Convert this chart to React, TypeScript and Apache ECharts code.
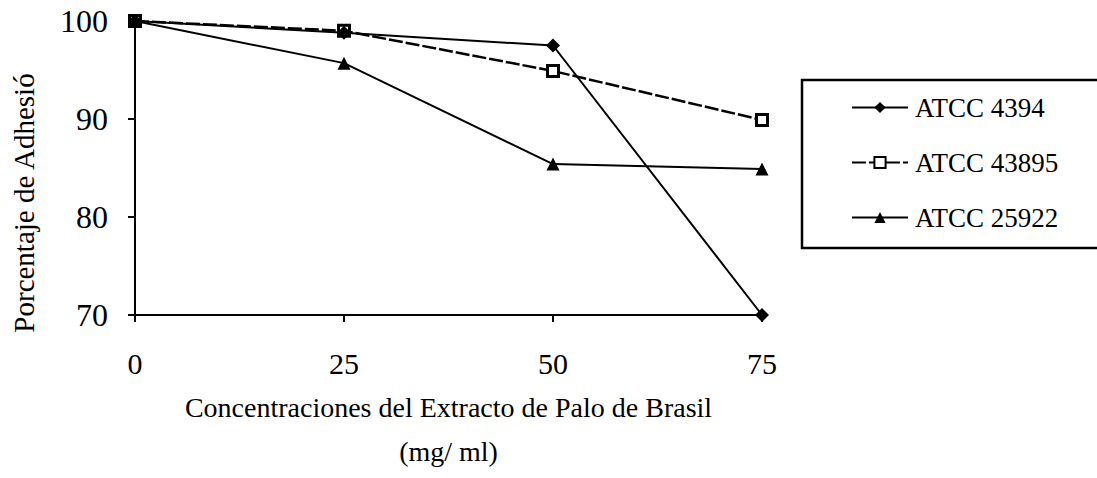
import React, { useEffect, useRef } from "react";
import * as echarts from "echarts";

const concentrations = [0, 25, 50, 75];
const atcc4394 = [100, 98.8, 97.5, 70];
const atcc43895 = [100, 99, 94.9, 89.9];
const atcc25922 = [100, 95.7, 85.4, 84.9];
const seriesNames = ["ATCC 4394", "ATCC 43895", "ATCC 25922"];
const xTitle = "Concentraciones del Extracto de Palo de Brasil\n(mg/ ml)";
const yTitle = "Porcentaje de Adhesió";

const FONT = "Liberation Serif";

export default function App() {
  const ref = useRef<HTMLDivElement>(null);
  useEffect(() => {
    if (!ref.current) return;
    const chart = echarts.init(ref.current, undefined, { renderer: "svg" });
    const pair = (arr: number[]) => concentrations.map((c, i) => [c, arr[i]]);
    chart.setOption({
      animation: false,
      backgroundColor: "#fff",
      textStyle: { fontFamily: FONT, color: "#000" },
      grid: { left: 135, right: 335, top: 21, bottom: 163 },
      xAxis: {
        type: "value",
        min: 0,
        max: 75,
        interval: 25,
        name: xTitle,
        nameLocation: "middle",
        nameGap: 70,
        nameMoveOverlap: false,
        nameTextStyle: { fontFamily: FONT, fontSize: 28, color: "#000", lineHeight: 44 },
        axisLine: { lineStyle: { color: "#000", width: 2 } },
        axisTick: { show: true, inside: false, length: 7, lineStyle: { color: "#000", width: 2 } },
        axisLabel: { fontFamily: FONT, fontSize: 30, color: "#000", margin: 33 },
        splitLine: { show: false },
      },
      yAxis: {
        type: "value",
        min: 70,
        max: 100,
        interval: 10,
        axisLine: { show: true, lineStyle: { color: "#000", width: 2 } },
        axisTick: { show: true, length: 7, lineStyle: { color: "#000", width: 2 } },
        axisLabel: { fontFamily: FONT, fontSize: 32, color: "#000", margin: 27 },
        splitLine: { show: false },
      },
      legend: {
        orient: "vertical",
        left: 846,
        top: 89,
        itemWidth: 56,
        itemHeight: 14,
        itemGap: 28,
        textStyle: { fontFamily: FONT, fontSize: 27, color: "#000", padding: [0, 0, 0, 2] },
        data: seriesNames,
      },
      graphic: [
        {
          type: "rect",
          shape: { x: 802, y: 80, width: 300, height: 168 },
          style: { fill: "none", stroke: "#000", lineWidth: 2.5 },
          silent: true,
        },
        {
          type: "text",
          x: 24,
          y: 203,
          rotation: Math.PI / 2,
          style: {
            text: yTitle,
            fontFamily: FONT,
            fontSize: 29,
            fill: "#000",
            align: "center",
            verticalAlign: "middle",
          },
          silent: true,
        },
      ],
      series: [
        {
          name: seriesNames[0],
          type: "line",
          data: pair(atcc4394),
          symbol: "diamond",
          symbolSize: 14,
          itemStyle: { color: "#000" },
          lineStyle: { color: "#000", width: 2 },
          z: 3,
        },
        {
          name: seriesNames[1],
          type: "line",
          data: pair(atcc43895),
          symbol: "rect",
          symbolSize: 11,
          itemStyle: { color: "#fff", borderColor: "#000", borderWidth: 3 },
          lineStyle: { color: "#000", width: 2.5, type: [14, 3] },
          z: 2,
        },
        {
          name: seriesNames[2],
          type: "line",
          data: pair(atcc25922),
          symbol: "triangle",
          symbolSize: 13,
          itemStyle: { color: "#000" },
          lineStyle: { color: "#000", width: 2 },
          z: 2,
        },
      ],
    });
    return () => chart.dispose();
  }, []);
  return <div ref={ref} style={{ width: 1097, height: 478, position: "absolute", left: 0, top: 0 }} />;
}
